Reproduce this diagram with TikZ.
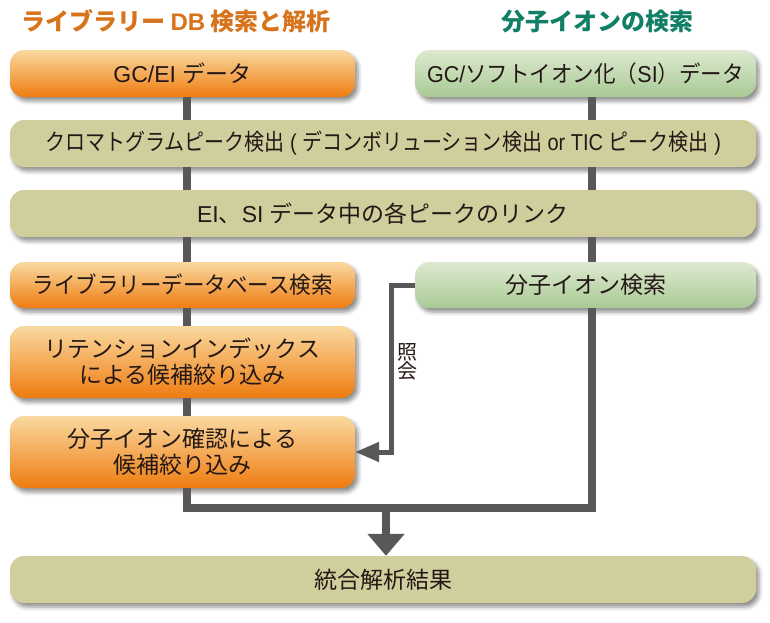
\documentclass[tikz,border=0pt]{standalone}
\usepackage{fontspec}
\setmainfont{Noto Sans CJK JP}
\newfontfamily\latf{Liberation Sans}
\newcommand{\lat}[1]{{\latf #1}}
\usetikzlibrary{shadows.blur,arrows.meta,calc}
\definecolor{orTop}{HTML}{F9D9A0}
\definecolor{orBot}{HTML}{EF7C10}
\definecolor{grTop}{HTML}{DDE9D0}
\definecolor{grBot}{HTML}{A9CA95}
\definecolor{olive}{HTML}{D1CE9E}
\definecolor{lgray}{HTML}{595757}
\definecolor{tcol}{HTML}{231815}
\definecolor{tOrange}{HTML}{D7731B}
\definecolor{tGreen}{HTML}{117F66}
\tikzset{
  box/.style={rectangle, rounded corners=14pt, inner sep=0pt, align=center,
    text=tcol, font=\fontsize{23}{26}\selectfont,
    blur shadow={shadow xshift=3pt, shadow yshift=-4pt, shadow blur radius=4pt, shadow opacity=45}},
  orbox/.style={box, top color=orTop, bottom color=orBot},
  grbox/.style={box, top color=grTop, bottom color=grBot},
  olbox/.style={box, fill=olive},
  halfw/.style={minimum width=345pt},
  fullw/.style={minimum width=746pt},
  conn/.style={draw=lgray, line width=8pt},
  fbconn/.style={draw=lgray, line width=5pt},
  ttl/.style={font=\fontsize{24}{26}\selectfont\bfseries, inner sep=0pt},
}
\begin{document}
\begin{tikzpicture}[x=1pt,y=-1pt]
\useasboundingbox (0,0) rectangle (770,622);
% titles
\node[ttl, text=tOrange] (t1) at (176,21) {ライブラリー \lat{DB} 検索と解析};
\node[ttl, text=tGreen] (t2) at (597,21) {分子イオンの検索};
% boxes
\node[orbox, halfw, minimum height=47pt] (gcei) at (182.5,73.5) {\lat{GC/EI }データ};
\node[grbox, minimum width=341pt, minimum height=47pt] (gcsi) at (585.5,73.5) {\scalebox{0.935}[1]{\lat{GC/}ソフトイオン化（\lat{SI}）データ}};
\node[olbox, fullw, minimum height=47pt] (chrom) at (383,143.5) {\scalebox{0.87}[1]{クロマトグラムピーク検出\lat{ ( }デコンボリューション検出\lat{ or TIC }ピーク検出\lat{ )}}};
\node[olbox, fullw, minimum height=47pt] (link) at (383,213.5) {\lat{EI}、\lat{SI }データ中の各ピークのリンク};
\node[orbox, halfw, minimum height=46pt] (libs) at (182.5,285) {\scalebox{0.935}[1]{ライブラリーデータベース検索}};
\node[grbox, minimum width=341pt, minimum height=46pt] (mion) at (585.5,285) {分子イオン検索};
\node[orbox, halfw, minimum height=72pt] (ret) at (182.5,362) {リテンションインデックス\\による候補絞り込み};
\node[orbox, halfw, minimum height=72pt] (conf) at (182.5,452) {分子イオン確認による\\候補絞り込み};
\node[olbox, fullw, minimum height=47pt] (res) at (383,579.5) {統合解析結果};
% helper coordinates
\coordinate (lx) at (187,0);
\coordinate (rx) at (592,0);
\coordinate (jn) at (386,508);
\coordinate (fb) at (391,452);
% left column connectors
\draw[conn] (gcei.south -| lx) -- (chrom.north -| lx);
\draw[conn] (chrom.south -| lx) -- (link.north -| lx);
\draw[conn] (link.south -| lx) -- (libs.north -| lx);
\draw[conn] (libs.south -| lx) -- (ret.north -| lx);
\draw[conn] (ret.south -| lx) -- (conf.north -| lx);
% right column connectors
\draw[conn] (gcsi.south -| rx) -- (chrom.north -| rx);
\draw[conn] (chrom.south -| rx) -- (link.north -| rx);
\draw[conn] (link.south -| rx) -- (mion.north -| rx);
% join
\draw[conn, line join=miter] (conf.south -| lx) |- (jn) -| (mion.south -| rx);
\draw[conn, -{Triangle[width=36pt,length=22pt]}] (jn) -- (res.north -| jn);
% feedback
\draw[fbconn, line join=miter, -{Triangle[width=19pt,length=24pt]}] (mion.west) -| (fb) -- (conf.east);
\node[align=center, text=tcol, inner sep=0pt, font=\fontsize{20}{19}\selectfont] (lbl) at (407,362) {照\\会};
\end{tikzpicture}
\end{document}
